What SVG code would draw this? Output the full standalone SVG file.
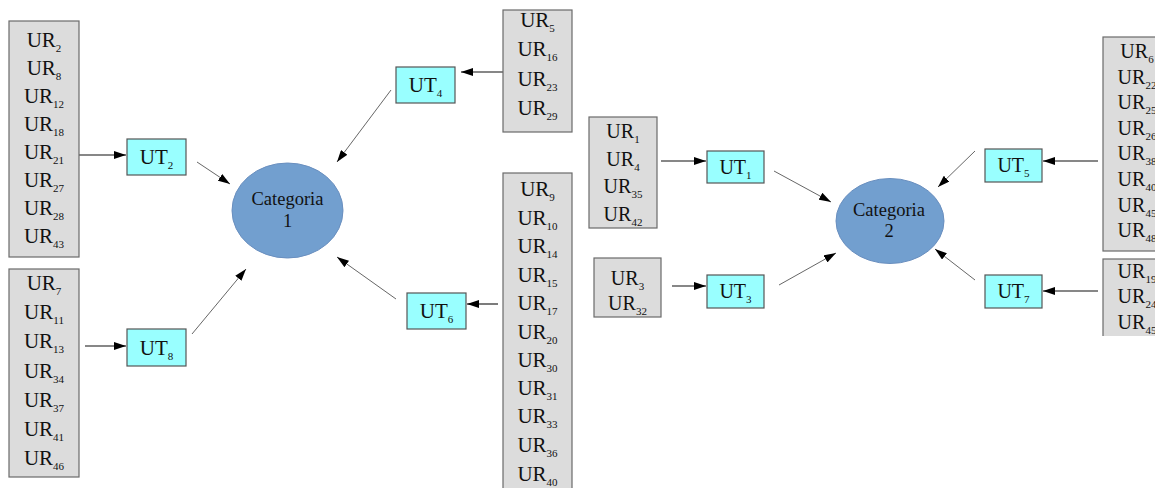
<svg xmlns="http://www.w3.org/2000/svg" width="1155" height="488" viewBox="0 0 1155 488" font-family="'Liberation Serif', 'Times New Roman', serif">
<style>
.ur{fill:#dcdcdc;stroke:#6a6a6a;stroke-width:1.2}
.ut{fill:#99ffff;stroke:#555;stroke-width:1.2}
.cat{fill:#729fcf;stroke:#6a8fbf;stroke-width:1}
text{font-family:"Liberation Serif","Times New Roman",serif;fill:#111;text-anchor:middle}
.t20{font-size:21px}
.t19{font-size:20px}
.t18{font-size:18.5px}
.s{font-size:11px}
.h{stroke:#111;stroke-width:1.1;fill:none}
.d{stroke:#555;stroke-width:0.9;fill:none}
</style>
<defs>
<marker id="ah" markerWidth="12" markerHeight="8" refX="12" refY="4" orient="auto" markerUnits="userSpaceOnUse">
<path d="M0,0 L12,4 L0,8 Z" fill="#000"/>
</marker>
<clipPath id="clipR"><rect x="578" y="0" width="577" height="336"/></clipPath>
</defs>
<rect width="1155" height="488" fill="#fff"/>

<g id="connectors">
<line class="h" x1="79" y1="155" x2="126" y2="155" marker-end="url(#ah)"/>
<line class="h" x1="85" y1="346" x2="126" y2="346" marker-end="url(#ah)"/>
<line class="h" x1="503" y1="72" x2="461" y2="72" marker-end="url(#ah)"/>
<line class="h" x1="498" y1="304" x2="467" y2="304" marker-end="url(#ah)"/>
<line class="d" x1="197" y1="162" x2="230" y2="184" marker-end="url(#ah)"/>
<line class="d" x1="192" y1="334" x2="246" y2="269" marker-end="url(#ah)"/>
<line class="d" x1="391" y1="90" x2="337" y2="162" marker-end="url(#ah)"/>
<line class="d" x1="396" y1="299" x2="337" y2="257" marker-end="url(#ah)"/>
<line class="h" x1="661" y1="161" x2="706" y2="161" marker-end="url(#ah)"/>
<line class="h" x1="672" y1="286" x2="706" y2="286" marker-end="url(#ah)"/>
<line class="h" x1="1098" y1="161" x2="1043" y2="161" marker-end="url(#ah)"/>
<line class="h" x1="1098" y1="291" x2="1043" y2="291" marker-end="url(#ah)"/>
<line class="d" x1="774" y1="171" x2="831" y2="202" marker-end="url(#ah)"/>
<line class="d" x1="779" y1="285" x2="836" y2="253" marker-end="url(#ah)"/>
<line class="d" x1="975" y1="151" x2="938" y2="187" marker-end="url(#ah)"/>
<line class="d" x1="975" y1="280" x2="935" y2="249" marker-end="url(#ah)"/>
</g>

<g id="ur-box-1">
<rect class="ur" x="9" y="21" width="70" height="236"/>
<text class="t20" x="44" y="47">UR<tspan class="s" dy="5">2</tspan></text>
<text class="t20" x="44" y="75">UR<tspan class="s" dy="5">8</tspan></text>
<text class="t20" x="44" y="103">UR<tspan class="s" dy="5">12</tspan></text>
<text class="t20" x="44" y="131">UR<tspan class="s" dy="5">18</tspan></text>
<text class="t20" x="44" y="159">UR<tspan class="s" dy="5">21</tspan></text>
<text class="t20" x="44" y="187">UR<tspan class="s" dy="5">27</tspan></text>
<text class="t20" x="44" y="215">UR<tspan class="s" dy="5">28</tspan></text>
<text class="t20" x="44" y="243">UR<tspan class="s" dy="5">43</tspan></text>
</g>

<g id="ur-box-2">
<rect class="ur" x="9" y="269" width="70" height="208"/>
<text class="t20" x="44" y="290">UR<tspan class="s" dy="5">7</tspan></text>
<text class="t20" x="44" y="319">UR<tspan class="s" dy="5">11</tspan></text>
<text class="t20" x="44" y="348">UR<tspan class="s" dy="5">13</tspan></text>
<text class="t20" x="44" y="378">UR<tspan class="s" dy="5">34</tspan></text>
<text class="t20" x="44" y="407">UR<tspan class="s" dy="5">37</tspan></text>
<text class="t20" x="44" y="436">UR<tspan class="s" dy="5">41</tspan></text>
<text class="t20" x="44" y="465">UR<tspan class="s" dy="5">46</tspan></text>
</g>

<g id="ur-box-3">
<rect class="ur" x="503" y="10" width="69" height="122"/>
<text class="t20" x="537.5" y="27">UR<tspan class="s" dy="5">5</tspan></text>
<text class="t20" x="537.5" y="56">UR<tspan class="s" dy="5">16</tspan></text>
<text class="t20" x="537.5" y="86">UR<tspan class="s" dy="5">23</tspan></text>
<text class="t20" x="537.5" y="115">UR<tspan class="s" dy="5">29</tspan></text>
</g>

<g id="ur-box-4">
<rect class="ur" x="503" y="173" width="69" height="330"/>
<text class="t20" x="537.5" y="196">UR<tspan class="s" dy="5">9</tspan></text>
<text class="t20" x="537.5" y="225">UR<tspan class="s" dy="5">10</tspan></text>
<text class="t20" x="537.5" y="253">UR<tspan class="s" dy="5">14</tspan></text>
<text class="t20" x="537.5" y="282">UR<tspan class="s" dy="5">15</tspan></text>
<text class="t20" x="537.5" y="310">UR<tspan class="s" dy="5">17</tspan></text>
<text class="t20" x="537.5" y="339">UR<tspan class="s" dy="5">20</tspan></text>
<text class="t20" x="537.5" y="367">UR<tspan class="s" dy="5">30</tspan></text>
<text class="t20" x="537.5" y="395">UR<tspan class="s" dy="5">31</tspan></text>
<text class="t20" x="537.5" y="423">UR<tspan class="s" dy="5">33</tspan></text>
<text class="t20" x="537.5" y="452">UR<tspan class="s" dy="5">36</tspan></text>
<text class="t20" x="537.5" y="481">UR<tspan class="s" dy="5">40</tspan></text>
</g>

<g id="ut2"><rect class="ut" x="127" y="139" width="59" height="36"/><text class="t20" x="156.5" y="164">UT<tspan class="s" dy="5">2</tspan></text></g>
<g id="ut8"><rect class="ut" x="127" y="329" width="59" height="37"/><text class="t20" x="156.5" y="355">UT<tspan class="s" dy="5">8</tspan></text></g>
<g id="ut4"><rect class="ut" x="396" y="67" width="59" height="36"/><text class="t20" x="425.5" y="92">UT<tspan class="s" dy="5">4</tspan></text></g>
<g id="ut6"><rect class="ut" x="407" y="293" width="59" height="36"/><text class="t20" x="436.5" y="318">UT<tspan class="s" dy="5">6</tspan></text></g>

<g id="categoria-1">
<ellipse class="cat" cx="287.5" cy="210.5" rx="55.5" ry="47.5"/>
<text class="t18" x="287.5" y="205">Categoria</text>
<text class="t18" x="287.5" y="227">1</text>
</g>

<g clip-path="url(#clipR)">
<g id="ur-box-5">
<rect class="ur" x="589" y="117" width="68" height="111"/>
<text class="t19" x="623" y="138">UR<tspan class="s" dy="5">1</tspan></text>
<text class="t19" x="623" y="166">UR<tspan class="s" dy="5">4</tspan></text>
<text class="t19" x="623" y="193">UR<tspan class="s" dy="5">35</tspan></text>
<text class="t19" x="623" y="221">UR<tspan class="s" dy="5">42</tspan></text>
</g>
<g id="ur-box-6">
<rect class="ur" x="594" y="258" width="67" height="59"/>
<text class="t19" x="627.5" y="285">UR<tspan class="s" dy="5">3</tspan></text>
<text class="t19" x="627.5" y="310">UR<tspan class="s" dy="5">32</tspan></text>
</g>
<g id="ur-box-7">
<rect class="ur" x="1103" y="37" width="68" height="214"/>
<text class="t19" x="1137" y="58">UR<tspan class="s" dy="5">6</tspan></text>
<text class="t19" x="1137" y="84">UR<tspan class="s" dy="5">22</tspan></text>
<text class="t19" x="1137" y="109">UR<tspan class="s" dy="5">25</tspan></text>
<text class="t19" x="1137" y="135">UR<tspan class="s" dy="5">26</tspan></text>
<text class="t19" x="1137" y="160">UR<tspan class="s" dy="5">38</tspan></text>
<text class="t19" x="1137" y="186">UR<tspan class="s" dy="5">40</tspan></text>
<text class="t19" x="1137" y="212">UR<tspan class="s" dy="5">45</tspan></text>
<text class="t19" x="1137" y="237">UR<tspan class="s" dy="5">48</tspan></text>
</g>
<g id="ur-box-8">
<rect class="ur" x="1103" y="259" width="68" height="90"/>
<text class="t19" x="1137" y="278">UR<tspan class="s" dy="5">19</tspan></text>
<text class="t19" x="1137" y="303">UR<tspan class="s" dy="5">24</tspan></text>
<text class="t19" x="1137" y="329">UR<tspan class="s" dy="5">45</tspan></text>
</g>
<g id="ut1"><rect class="ut" x="707" y="151" width="57" height="32"/><text class="t19" x="735.5" y="174">UT<tspan class="s" dy="5">1</tspan></text></g>
<g id="ut3"><rect class="ut" x="707" y="275" width="57" height="33"/><text class="t19" x="735.5" y="298">UT<tspan class="s" dy="5">3</tspan></text></g>
<g id="ut5"><rect class="ut" x="985" y="149" width="57" height="33"/><text class="t19" x="1013.5" y="172">UT<tspan class="s" dy="5">5</tspan></text></g>
<g id="ut7"><rect class="ut" x="985" y="275" width="57" height="33"/><text class="t19" x="1013.5" y="298">UT<tspan class="s" dy="5">7</tspan></text></g>
<g id="categoria-2">
<ellipse class="cat" cx="890" cy="221" rx="54" ry="42.5"/>
<text class="t18" x="889" y="216">Categoria</text>
<text class="t18" x="889" y="237">2</text>
</g>
</g>
</svg>
